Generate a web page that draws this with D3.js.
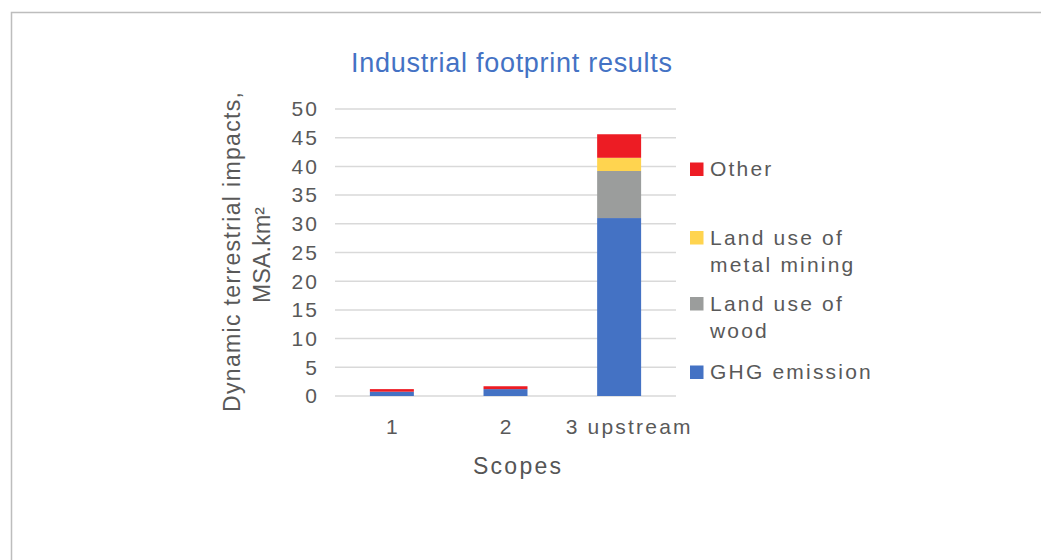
<!DOCTYPE html>
<html><head><meta charset="utf-8">
<script src="https://cdn.jsdelivr.net/npm/d3@7"></script>
<style>
html,body{margin:0;padding:0;background:#fff;}
svg{display:block;font-family:"Liberation Sans",Arial,sans-serif;}
</style></head>
<body>
<svg id="chart" width="1041" height="560"></svg>
<script>
const categories = ["1", "2", "3 upstream"];
const seriesNames = ["GHG emission", "Land use of wood", "Land use of metal mining", "Other"];
const ghgEmission = [0.75, 1.2, 31.0];
const landUseWood = [0, 0, 8.2];
const landUseMetal = [0, 0, 2.3];
const other = [0.45, 0.5, 4.1];
const yTicks = [0, 5, 10, 15, 20, 25, 30, 35, 40, 45, 50];
const colors = ["#4472C4", "#9B9D9C", "#FFD44F", "#ED1C24"];
const legendLines = [["Other"], ["Land use of", "metal mining"], ["Land use of", "wood"], ["GHG emission"]];

const svg = d3.select("#chart");
const textColor = "#595959";
const ls = 2.2;

// border
svg.append("rect").attr("x", 11.5).attr("y", 12.5).attr("width", 1100).attr("height", 600)
  .attr("fill", "none").attr("stroke", "#bdbdbd").attr("stroke-width", 1.5);

const plot = {left: 335, right: 676, top: 109, bottom: 396};
const x = d3.scaleBand().domain(categories).range([plot.left, plot.right])
  .paddingInner(0.613).paddingOuter(0.307);
const y = d3.scaleLinear().domain([0, 50]).range([plot.bottom, plot.top]);

// gridlines
svg.append("g").selectAll("line").data(yTicks).join("line")
  .attr("x1", plot.left).attr("x2", plot.right)
  .attr("y1", d => y(d)).attr("y2", d => y(d))
  .attr("stroke", "#d9d9d9").attr("stroke-width", 1.5);

// y tick labels
svg.append("g").selectAll("text").data(yTicks).join("text")
  .attr("x", 317 + ls).attr("y", d => y(d)).attr("dy", "0.35em")
  .attr("text-anchor", "end").attr("font-size", 21).attr("letter-spacing", ls).attr("fill", textColor)
  .text(d => d);

// stacked data
const table = categories.map((c, i) => ({
  cat: c,
  "GHG emission": ghgEmission[i],
  "Land use of wood": landUseWood[i],
  "Land use of metal mining": landUseMetal[i],
  "Other": other[i]
}));
const stack = d3.stack().keys(seriesNames)(table);

svg.append("g").selectAll("g").data(stack).join("g")
  .attr("fill", (d, i) => colors[i])
  .selectAll("rect").data(d => d).join("rect")
  .attr("x", d => x(d.data.cat))
  .attr("width", x.bandwidth())
  .attr("y", d => y(d[1]))
  .attr("height", d => Math.max(0, y(d[0]) - y(d[1])));

// x axis labels
svg.append("g").selectAll("text").data(categories).join("text")
  .attr("x", (d, i) => x(d) + x.bandwidth() / 2 + ls / 2 + (i === 2 ? 9 : 0)).attr("y", 434)
  .attr("text-anchor", "middle").attr("font-size", 21).attr("letter-spacing", ls).attr("fill", textColor)
  .text(d => d);

// x axis title
svg.append("text").attr("x", 517).attr("y", 474).attr("text-anchor", "middle")
  .attr("font-size", 23).attr("fill", "#555").attr("font-weight", 500)
  .attr("textLength", 88).attr("lengthAdjust", "spacing")
  .text("Scopes");

// y axis title
const yt = svg.append("text").attr("transform", "rotate(-90)")
  .attr("text-anchor", "middle").attr("font-size", 23).attr("fill", textColor);
yt.append("tspan").attr("x", -252).attr("y", 239.5)
  .attr("textLength", 320).attr("lengthAdjust", "spacing").text("Dynamic terrestrial impacts,");
yt.append("tspan").attr("x", -255).attr("y", 269.5)
  .attr("textLength", 96).attr("lengthAdjust", "spacing").text("MSA.km²");

// title
svg.append("text").attr("x", 511.5).attr("y", 72).attr("text-anchor", "middle")
  .attr("font-size", 27).attr("fill", "#4472C4")
  .attr("textLength", 321).attr("lengthAdjust", "spacing")
  .text("Industrial footprint results");

// legend
const legendSquareY = [162.5, 231, 297, 365.5];
const legend = svg.append("g");
legendLines.forEach((lines, i) => {
  const colorIdx = seriesNames.length - 1 - i;
  legend.append("rect").attr("x", 690).attr("y", legendSquareY[i]).attr("width", 13.5).attr("height", 13.5)
    .attr("fill", colors[colorIdx]);
  lines.forEach((ln, j) => {
    legend.append("text").attr("x", 710).attr("y", legendSquareY[i] + 13.5 + j * 27.5)
      .attr("font-size", 21).attr("letter-spacing", ls).attr("fill", textColor).text(ln);
  });
});
</script>
</body></html>
